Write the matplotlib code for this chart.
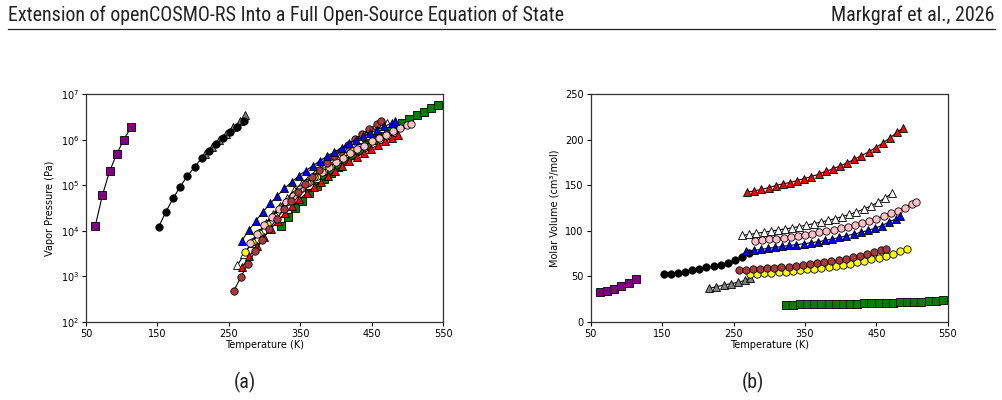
import numpy as np
import matplotlib
matplotlib.use('Agg')
import matplotlib.pyplot as plt
from matplotlib.ticker import LogLocator, NullLocator

# ---- data (T in K, P in Pa, V in cm3/mol) ----
T_purple = [63, 73, 83, 93, 103, 113]
P_purple = [1.27e4, 6.0e4, 2.0e5, 4.8e5, 1.0e6, 1.85e6]
V_purple = [32.8, 34.4, 35.8, 39.4, 42.4, 47.5]

T_black = [152, 162, 172, 182, 192, 202, 212, 222, 232, 242, 252, 262, 272]
P_black = [1.23e4, 2.63e4, 5.13e4, 9.33e4, 1.58e5, 2.51e5, 3.89e5, 5.50e5,
           7.94e5, 1.07e6, 1.45e6, 1.91e6, 2.51e6]
V_black = [52.2, 53.0, 53.6, 55.2, 56.6, 58.0, 59.9, 61.3, 62.8, 64.6, 67.5, 71.1, 75.5]

T_grey = [216, 226, 236, 246, 256, 266, 273]
P_grey = [4.8e5, 6.8e5, 9.8e5, 1.35e6, 1.86e6, 2.5e6, 3.4e6]
V_grey = [36.9, 38.7, 40.5, 42.0, 43.5, 45.6, 48.2]

T_blue = [268, 278, 288, 298, 308, 318, 328, 338, 348, 358, 368, 378, 388, 398,
          408, 418, 428, 438, 448, 458, 468, 478, 483]
P_blue = [6.0e3, 1.02e4, 1.66e4, 2.63e4, 3.98e4, 5.89e4, 8.51e4, 1.17e5, 1.62e5,
          2.09e5, 2.69e5, 3.47e5, 4.37e5, 5.37e5, 6.61e5, 8.32e5, 9.77e5, 1.17e6,
          1.38e6, 1.66e6, 1.95e6, 2.29e6, 2.57e6]
V_blue = [77.4, 78.5, 79.5, 80.7, 81.8, 82.8, 84.0, 84.8, 85.8, 86.9, 88.0, 89.4,
          90.9, 92.7, 94.5, 96.3, 98.2, 100.4, 102.9, 105.8, 109.9, 113.2, 115.7]

T_white = [262, 272, 282, 292, 302, 312, 322, 332, 342, 352, 362, 372, 382, 392,
           402, 412, 422, 432, 442, 452, 462, 472]
P_white = [1.74e3, 3.16e3, 5.50e3, 9.12e3, 1.48e4, 2.34e4, 3.55e4, 5.25e4, 7.76e4,
           1.10e5, 1.51e5, 2.09e5, 2.82e5, 3.72e5, 4.90e5, 6.31e5, 8.13e5, 1.02e6,
           1.29e6, 1.58e6, 1.95e6, 2.34e6]
V_white = [94.9, 96.0, 97.2, 98.4, 99.6, 100.8, 102.0, 103.3, 104.7, 106.2, 107.8,
           109.5, 111.3, 113.3, 115.5, 118.0, 120.7, 123.7, 127.2, 131.2, 135.8, 141.5]

T_pink = [280, 290, 300, 310, 320, 330, 340, 350, 360, 370, 380, 390, 400, 410,
          420, 430, 440, 450, 460, 470, 480, 490, 500, 505]
P_pink = [5.5e3, 8.7e3, 1.35e4, 2.04e4, 2.95e4, 4.27e4, 5.89e4, 8.13e4, 1.10e5,
          1.48e5, 1.91e5, 2.45e5, 3.16e5, 3.98e5, 5.01e5, 6.17e5, 7.41e5, 9.12e5,
          1.10e6, 1.29e6, 1.55e6, 1.78e6, 2.09e6, 2.24e6]
V_pink = [88.7, 89.6, 90.5, 91.5, 92.5, 93.5, 94.6, 95.8, 97.0, 98.3, 99.7, 101.2,
          102.8, 104.5, 106.3, 108.3, 110.5, 113.0, 115.8, 119.0, 122.0, 125.5,
          129.5, 131.4]

T_brown = [257, 267, 277, 287, 297, 307, 317, 327, 337, 347, 357, 367, 377, 387,
           397, 407, 417, 427, 437, 447, 457, 463]
P_brown = [479, 977, 1.91e3, 3.55e3, 6.31e3, 1.10e4, 1.82e4, 2.95e4, 4.57e4, 7.08e4,
           1.05e5, 1.51e5, 2.19e5, 3.09e5, 4.27e5, 5.75e5, 7.76e5, 1.02e6, 1.32e6,
           1.70e6, 2.19e6, 2.51e6]
V_brown = [56.6, 57.1, 57.6, 58.2, 58.8, 59.4, 60.1, 60.8, 61.6, 62.4, 63.3, 64.3,
           65.4, 66.6, 67.9, 69.3, 70.9, 72.6, 74.5, 76.5, 78.5, 79.9]

T_yellow = [273, 283, 293, 303, 313, 323, 333, 343, 353, 363, 373, 383, 393, 403,
            413, 423, 433, 443, 453, 463, 473, 483, 493]
P_yellow = [3.39e3, 5.62e3, 9.12e3, 1.41e4, 2.14e4, 3.16e4, 4.57e4, 6.31e4, 8.71e4,
            1.20e5, 1.58e5, 2.09e5, 2.69e5, 3.47e5, 4.37e5, 5.50e5, 6.76e5, 8.32e5,
            1.02e6, 1.23e6, 1.48e6, 1.74e6, 2.04e6]
V_yellow = [52.2, 52.8, 53.4, 54.0, 54.6, 55.3, 56.0, 56.8, 57.6, 58.5, 59.5, 60.5,
            61.6, 62.8, 64.1, 65.5, 67.1, 68.8, 70.7, 72.8, 75.1, 77.6, 80.3]

T_red = [269, 279, 289, 299, 309, 319, 329, 339, 349, 359, 369, 379, 389, 399,
         409, 419, 429, 439, 449, 459, 469, 479, 487]
P_red = [1.62e3, 2.75e3, 4.57e3, 7.24e3, 1.12e4, 1.66e4, 2.45e4, 3.47e4, 4.90e4,
         6.76e4, 9.12e4, 1.20e5, 1.58e5, 2.04e5, 2.63e5, 3.31e5, 4.17e5, 5.13e5,
         6.31e5, 7.59e5, 9.12e5, 1.10e6, 1.26e6]
V_red = [142.3, 143.8, 145.3, 147.4, 149.6, 151.5, 152.9, 155.1, 157.3, 159.5,
         162.0, 165.3, 167.9, 171.2, 174.5, 178.4, 182.5, 186.5, 191.2, 196.4,
         201.9, 208.0, 212.8]

T_green = [323, 333, 343, 353, 363, 373, 383, 393, 403, 413, 423, 433, 443, 453,
           463, 473, 483, 493, 503, 513, 523, 533, 543]
P_green = [1.26e4, 2.00e4, 3.09e4, 4.57e4, 6.76e4, 9.55e4, 1.35e5, 1.86e5, 2.57e5,
           3.39e5, 4.57e5, 5.89e5, 7.59e5, 9.77e5, 1.23e6, 1.55e6, 1.91e6, 2.34e6,
           2.82e6, 3.47e6, 4.07e6, 4.90e6, 5.75e6]
V_green = [19.0, 19.1, 19.2, 19.3, 19.4, 19.5, 19.7, 19.8, 19.9, 20.1, 20.2, 20.4,
           20.6, 20.8, 21.0, 21.2, 21.4, 21.7, 22.0, 22.3, 22.7, 23.2, 23.8]

series = [
    (T_purple, P_purple, V_purple, 's', 'purple'),
    (T_grey, P_grey, V_grey, '^', 'grey'),
    (T_black, P_black, V_black, 'o', 'black'),
    (T_white, P_white, V_white, '^', 'white'),
    (T_yellow, P_yellow, V_yellow, 'o', 'yellow'),
    (T_green, P_green, V_green, 's', 'green'),
    (T_red, P_red, V_red, '^', 'red'),
    (T_pink, P_pink, V_pink, 'o', 'pink'),
    (T_brown, P_brown, V_brown, 'o', '#a83a3a'),
    (T_blue, P_blue, V_blue, '^', 'blue'),
]

plt.rcParams['font.family'] = ['DejaVu Sans']
hdr_font = ['Roboto Condensed', 'Liberation Sans Narrow', 'DejaVu Sans']

fig = plt.figure(figsize=(10.03, 4.0), dpi=100)
fig.text(0.008, 0.963, 'Extension of openCOSMO-RS Into a Full Open-Source Equation of State',
         family=hdr_font, fontsize=14.4, color='#222222', va='center', ha='left')
fig.text(0.992, 0.963, 'Markgraf et al., 2026', family=hdr_font, fontsize=14.4,
         color='#222222', va='center', ha='right')
fig.add_artist(plt.Line2D([0.008, 0.992], [0.928, 0.928], color='#222222', lw=0.9))

ax1 = fig.add_axes([0.0857, 0.195, 0.3560, 0.570])
ax2 = fig.add_axes([0.5890, 0.195, 0.3560, 0.570])

for T, P, V, m, c in series:
    ax1.plot(T, P, '-', color='black', lw=0.8, marker=m, markersize=5.3,
             markerfacecolor=c, markeredgecolor='black', markeredgewidth=0.6)
    ax2.plot(T, V, '-', color='black', lw=0.8, marker=m, markersize=5.3,
             markerfacecolor=c, markeredgecolor='black', markeredgewidth=0.6)

ax1.set_yscale('log')
ax1.set_ylim(1e2, 1e7)
ax1.yaxis.set_major_locator(LogLocator(base=10, numticks=10))
ax1.yaxis.set_minor_locator(NullLocator())
ax1.set_ylabel('Vapor Pressure (Pa)', fontsize=7)

ax2.set_ylim(0, 250)
ax2.set_yticks([0, 50, 100, 150, 200, 250])
ax2.set_ylabel('Molar Volume (cm³/mol)', fontsize=7)

for ax in (ax1, ax2):
    ax.set_xlim(50, 550)
    ax.set_xticks([50, 150, 250, 350, 450, 550])
    ax.set_xlabel('Temperature (K)', fontsize=7, labelpad=1)
    ax.tick_params(labelsize=7, length=3, width=0.8, pad=2)
    for s in ax.spines.values():
        s.set_linewidth(0.9)
        s.set_color('#333333')

fig.text(0.2445, 0.043, '(a)', family=hdr_font, fontsize=14.4, ha='center', va='center',
         color='#222222')
fig.text(0.7505, 0.043, '(b)', family=hdr_font, fontsize=14.4, ha='center', va='center',
         color='#222222')

fig.savefig('out.png', dpi=100)
